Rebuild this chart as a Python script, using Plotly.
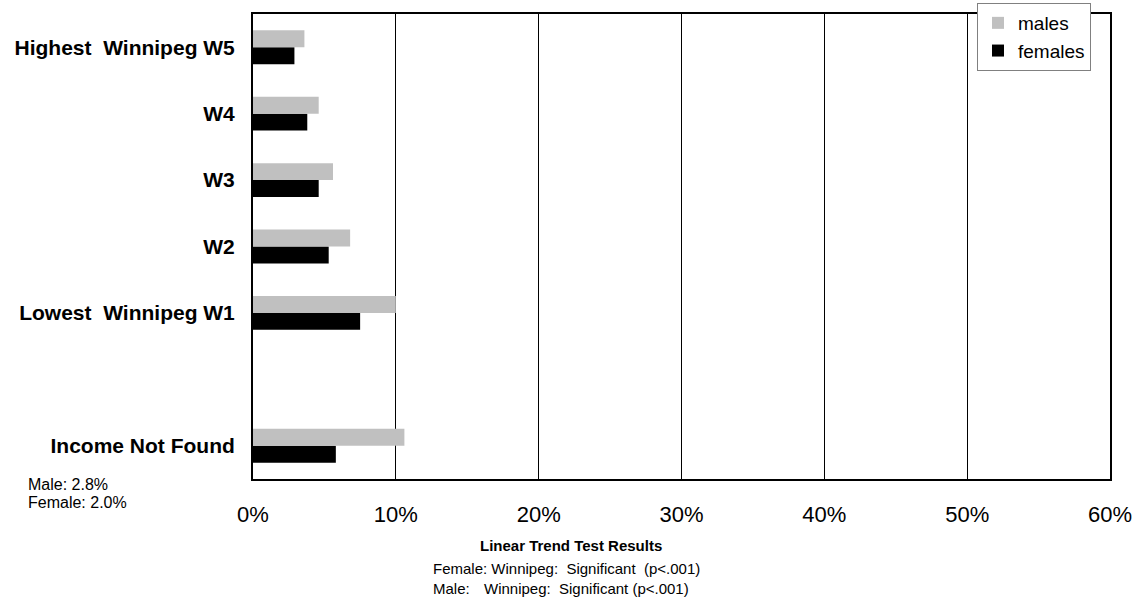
import plotly.graph_objects as go

# ---- data ----
categories = ["Income Not Found", "", "Lowest\u00a0 Winnipeg W1", "W2", "W3", "W4", "Highest\u00a0 Winnipeg W5"]
males = [10.6, None, 10.0, 6.8, 5.6, 4.6, 3.6]
females = [5.8, None, 7.5, 5.3, 4.6, 3.8, 2.9]
x_ticks = [0, 10, 20, 30, 40, 50, 60]
x_tick_labels = ["0%", "10%", "20%", "30%", "40%", "50%", "60%"]

FONT = "Arial, Liberation Sans, sans-serif"
W, H = 1137, 599
L, R, T, B = 253, 1110, 14, 479

def px(xp):
    return (xp - L) / (R - L)

def py(yp):
    return (B - yp) / (B - T)

ypos = list(range(len(categories)))
ytext = [f"<b>{c}</b>" if c else "" for c in categories]

fig = go.Figure()
fig.add_trace(go.Bar(y=ypos, x=females, orientation="h", name="females",
                     marker=dict(color="#000000", line=dict(width=0)),
                     legendgroup="f", legendrank=2))
fig.add_trace(go.Bar(y=ypos, x=males, orientation="h", name="males",
                     marker=dict(color="#C0C0C0", line=dict(width=0)),
                     legendgroup="m", legendrank=1))

fig.update_layout(
    width=W, height=H,
    margin=dict(l=L, r=W - R, t=T, b=H - B, pad=0, autoexpand=False),
    paper_bgcolor="white", plot_bgcolor="white",
    barmode="group", bargap=0.49, bargroupgap=0,
    font=dict(family=FONT, color="black"),
    showlegend=True,
    legend=dict(x=px(977), y=py(3), xanchor="left", yanchor="top",
                bgcolor="white", bordercolor="#808080", borderwidth=1,
                font=dict(size=19, family=FONT, color="black"),
                traceorder="grouped", tracegroupgap=0),
    xaxis=dict(range=[0, 60], tickvals=x_ticks, ticktext=x_tick_labels,
               showgrid=True, gridcolor="black", gridwidth=1,
               showline=True, linecolor="black", linewidth=2, mirror=True,
               ticks="", ticklabelstandoff=15, zeroline=False,
               tickfont=dict(size=22, family=FONT, color="black")),
    yaxis=dict(range=[-0.5, len(categories) - 0.5], tickvals=ypos, ticktext=ytext,
               showgrid=False, showline=True, linecolor="black", linewidth=2, mirror=True,
               ticks="", ticklabelstandoff=12, zeroline=False,
               tickfont=dict(size=21, family=FONT, color="black")),
)

ann = [
    dict(text="Male: 2.8%", x=px(27), y=py(484), xanchor="left", size=16),
    dict(text="Female: 2.0%", x=px(27), y=py(503), xanchor="left", size=16),
    dict(text="<b>Linear Trend Test Results</b>", x=px(571), y=py(545), xanchor="center", size=15),
    dict(text="Female: Winnipeg:\u00a0 Significant\u00a0 (p<.001)", x=px(432), y=py(568), xanchor="left", size=15),
    dict(text="Male:", x=px(432), y=py(588), xanchor="left", size=15),
    dict(text="Winnipeg:\u00a0 Significant (p<.001)", x=px(483), y=py(588), xanchor="left", size=15),
]
for a in ann:
    fig.add_annotation(text=a["text"], x=a["x"], y=a["y"], xref="paper", yref="paper",
                       xanchor=a["xanchor"], yanchor="middle", showarrow=False,
                       borderpad=0, font=dict(size=a["size"], family=FONT, color="black"))

fig.write_html("out.html", config={"displayModeBar": False},
               post_script="document.body.style.margin='0';document.body.style.overflow='hidden';")
